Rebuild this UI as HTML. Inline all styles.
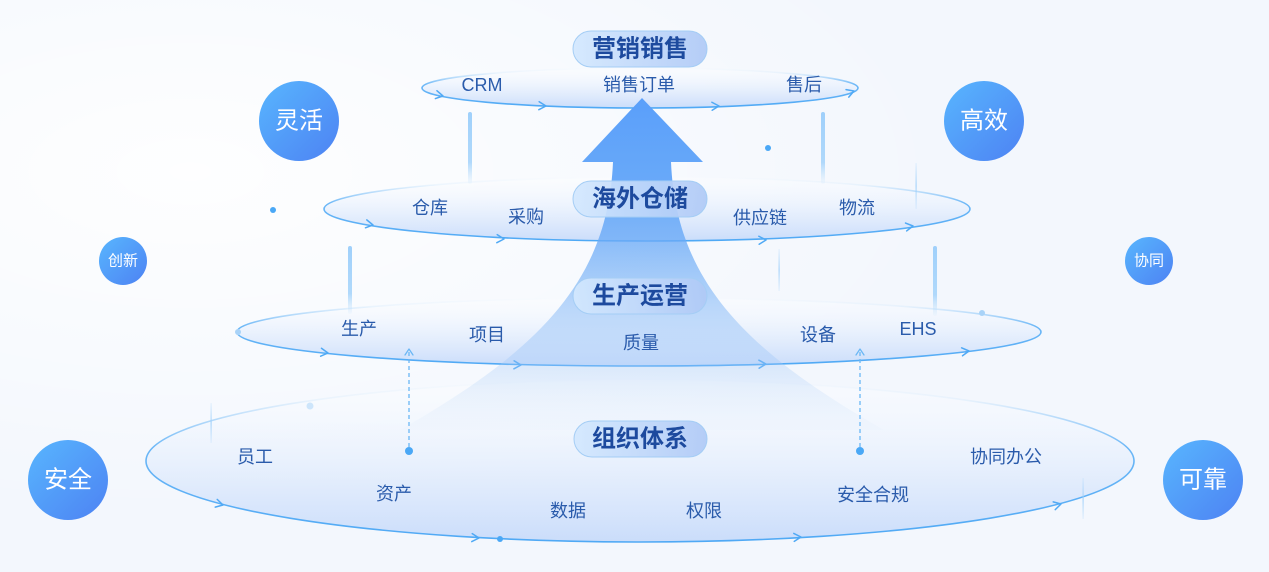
<!DOCTYPE html>
<html>
<head>
<meta charset="utf-8">
<style>
  html, body { margin: 0; padding: 0; }
  body { width: 1269px; height: 572px; overflow: hidden; background: #f4f8fe; }
  svg { display: block; }
  text { font-family: "Liberation Sans", "Noto Sans CJK SC", sans-serif; }
</style>
</head>
<body>
<svg width="1269" height="572" viewBox="0 0 1269 572" xmlns="http://www.w3.org/2000/svg">
  <defs>
    <radialGradient id="bgGlow" cx="0.15" cy="0.3" r="0.6">
      <stop offset="0" stop-color="#ffffff" stop-opacity="0.9"/>
      <stop offset="1" stop-color="#ffffff" stop-opacity="0"/>
    </radialGradient>
    <linearGradient id="ellStroke" x1="0" y1="0" x2="0" y2="1">
      <stop offset="0" stop-color="#5cb0f6" stop-opacity="0"/>
      <stop offset="0.12" stop-color="#5cb0f6" stop-opacity="0.08"/>
      <stop offset="0.42" stop-color="#5cb0f6" stop-opacity="0.9"/>
      <stop offset="1" stop-color="#4fa9f5" stop-opacity="1"/>
    </linearGradient>
    <linearGradient id="ellFill" x1="0" y1="0" x2="0" y2="1">
      <stop offset="0" stop-color="#ffffff" stop-opacity="0.3"/>
      <stop offset="0.5" stop-color="#e4eefd" stop-opacity="0.7"/>
      <stop offset="1" stop-color="#c3d8fa" stop-opacity="0.85"/>
    </linearGradient>
    <linearGradient id="arrowFill" gradientUnits="userSpaceOnUse" x1="0" y1="98" x2="0" y2="440">
      <stop offset="0" stop-color="#5a9ffa" stop-opacity="1"/>
      <stop offset="0.3" stop-color="#5fa4f8" stop-opacity="0.92"/>
      <stop offset="0.55" stop-color="#77b1f6" stop-opacity="0.6"/>
      <stop offset="0.8" stop-color="#a5caf7" stop-opacity="0.3"/>
      <stop offset="1" stop-color="#c8defa" stop-opacity="0"/>
    </linearGradient>
    <linearGradient id="pillFill" x1="0" y1="0" x2="1" y2="0">
      <stop offset="0" stop-color="#d3e8fe" stop-opacity="0.92"/>
      <stop offset="1" stop-color="#afc9f6" stop-opacity="0.92"/>
    </linearGradient>
    <linearGradient id="circFill" x1="0" y1="0" x2="1" y2="1">
      <stop offset="0" stop-color="#58b6fe"/>
      <stop offset="1" stop-color="#4d82f3"/>
    </linearGradient>
    <linearGradient id="barFill" x1="0" y1="0" x2="0" y2="1">
      <stop offset="0" stop-color="#9fd0fb" stop-opacity="1"/>
      <stop offset="0.7" stop-color="#a8d5fb" stop-opacity="0.9"/>
      <stop offset="1" stop-color="#c4e2fc" stop-opacity="0.1"/>
    </linearGradient>
    <linearGradient id="thinFill" x1="0" y1="0" x2="0" y2="1">
      <stop offset="0" stop-color="#9fd0fb" stop-opacity="0.2"/>
      <stop offset="0.5" stop-color="#9fd0fb" stop-opacity="0.9"/>
      <stop offset="1" stop-color="#9fd0fb" stop-opacity="0.2"/>
    </linearGradient>
  </defs>

  <!-- background -->
  <rect x="0" y="0" width="1269" height="572" fill="#f3f7fd"/>
  <rect x="0" y="0" width="1269" height="572" fill="url(#bgGlow)"/>

  <!-- ellipses -->
  <ellipse cx="640" cy="461" rx="494" ry="81" fill="url(#ellFill)" stroke="url(#ellStroke)" stroke-width="1.6"/>
  <ellipse cx="639" cy="332" rx="402" ry="34" fill="url(#ellFill)" stroke="url(#ellStroke)" stroke-width="1.6"/>
  <ellipse cx="647" cy="209" rx="323" ry="32" fill="url(#ellFill)" stroke="url(#ellStroke)" stroke-width="1.6"/>
  <ellipse cx="640" cy="88" rx="218" ry="20" fill="url(#ellFill)" stroke="url(#ellStroke)" stroke-width="1.6"/>

  <!-- chevron arrowheads on ellipses -->
  <g fill="none" stroke="#4fa9f5" stroke-width="1.5" stroke-linecap="round" stroke-linejoin="round">
    <path d="M-7,-4 L0,0 L-7,4" transform="translate(443,96) rotate(11)"/>
    <path d="M-7,-4 L0,0 L-7,4" transform="translate(546,106) rotate(2.5)"/>
    <path d="M-7,-4 L0,0 L-7,4" transform="translate(719,106) rotate(-2)"/>
    <path d="M-7,-4 L0,0 L-7,4" transform="translate(854,91) rotate(-20)"/>

    <path d="M-7,-4 L0,0 L-7,4" transform="translate(373,225) rotate(9.6)"/>
    <path d="M-7,-4 L0,0 L-7,4" transform="translate(504,239) rotate(2.7)"/>
    <path d="M-7,-4 L0,0 L-7,4" transform="translate(766,240) rotate(-2.1)"/>
    <path d="M-7,-4 L0,0 L-7,4" transform="translate(913,226) rotate(-8.2)"/>

    <path d="M-7,-4 L0,0 L-7,4" transform="translate(328,353) rotate(6)"/>
    <path d="M-7,-4 L0,0 L-7,4" transform="translate(521,365) rotate(1.6)"/>
    <path d="M-7,-4 L0,0 L-7,4" transform="translate(766,364) rotate(-1.6)"/>
    <path d="M-7,-4 L0,0 L-7,4" transform="translate(969,351) rotate(-6.7)"/>

    <path d="M-7,-4 L0,0 L-7,4" transform="translate(223,505) rotate(14.3)"/>
    <path d="M-7,-4 L0,0 L-7,4" transform="translate(479,538) rotate(3.2)"/>
    <path d="M-7,-4 L0,0 L-7,4" transform="translate(801,537) rotate(-3.2)"/>
    <path d="M-7,-4 L0,0 L-7,4" transform="translate(1061,504) rotate(-14.7)"/>
  </g>

  <!-- vertical bars -->
  <rect x="468" y="112" width="4" height="72" rx="2" fill="url(#barFill)"/>
  <rect x="821" y="112" width="4" height="72" rx="2" fill="url(#barFill)"/>
  <rect x="348" y="246" width="4" height="68" rx="2" fill="url(#barFill)"/>
  <rect x="933" y="246" width="4" height="70" rx="2" fill="url(#barFill)"/>
  <rect x="778.5" y="249" width="1.2" height="42" fill="url(#thinFill)"/>
  <rect x="915.5" y="163" width="1.2" height="46" fill="url(#thinFill)"/>
  <rect x="210.5" y="403" width="1.2" height="40" fill="url(#thinFill)"/>
  <rect x="1082.5" y="478" width="1.2" height="41" fill="url(#thinFill)"/>

  <!-- dashed connectors -->
  <g stroke="#6ab7f5" stroke-width="1.3" fill="none">
    <line x1="409" y1="352" x2="409" y2="448" stroke-dasharray="4 3"/>
    <line x1="860" y1="352" x2="860" y2="448" stroke-dasharray="4 3"/>
    <path d="M405,355 L409,349 L413,355" stroke-linecap="round" stroke-linejoin="round"/>
    <path d="M856,355 L860,349 L864,355" stroke-linecap="round" stroke-linejoin="round"/>
  </g>

  <!-- dots -->
  <circle cx="409" cy="451" r="4" fill="#4aa8f6"/>
  <circle cx="860" cy="451" r="4" fill="#4aa8f6"/>
  <circle cx="768" cy="148" r="3" fill="#4aa8f6"/>
  <circle cx="273" cy="210" r="3" fill="#4aa8f6"/>
  <circle cx="500" cy="539" r="3" fill="#4aa8f6"/>
  <circle cx="982" cy="313" r="3" fill="#a9d3f8"/>
  <circle cx="238" cy="332" r="3" fill="#a9d3f8"/>
  <circle cx="310" cy="406" r="3.5" fill="#cde5fb"/>

  <!-- big arrow -->
  <path d="M642,98 L703,162 L671,162 C676,280 744,350 884,430 L400,430 C540,350 608,280 613,162 L582,162 Z" fill="url(#arrowFill)"/>

  <!-- pills -->
  <g>
    <rect x="573" y="31" width="134" height="36" rx="18" fill="url(#pillFill)" stroke="#a4cdf5" stroke-width="1"/>
    <rect x="573" y="181" width="134" height="36" rx="18" fill="url(#pillFill)" stroke="#a4cdf5" stroke-width="1"/>
    <rect x="573" y="278" width="134" height="36" rx="18" fill="url(#pillFill)" stroke="#a4cdf5" stroke-width="1"/>
    <rect x="574" y="421" width="133" height="36" rx="18" fill="url(#pillFill)" stroke="#a4cdf5" stroke-width="1"/>
  </g>
  <g font-size="24" font-weight="bold" fill="#1d4a9e" text-anchor="middle" dominant-baseline="central">
    <text x="640" y="49">营销销售</text>
    <text x="640" y="199">海外仓储</text>
    <text x="640" y="296">生产运营</text>
    <text x="640" y="439">组织体系</text>
  </g>

  <!-- item labels -->
  <g font-size="18" fill="#2a5bab" text-anchor="middle" dominant-baseline="central">
    <text x="482" y="85">CRM</text>
    <text x="639" y="85">销售订单</text>
    <text x="804" y="85">售后</text>

    <text x="430" y="208">仓库</text>
    <text x="526" y="217">采购</text>
    <text x="760" y="218">供应链</text>
    <text x="857" y="208">物流</text>

    <text x="359" y="329">生产</text>
    <text x="487" y="335">项目</text>
    <text x="641" y="343">质量</text>
    <text x="818" y="335">设备</text>
    <text x="918" y="329">EHS</text>

    <text x="255" y="457">员工</text>
    <text x="394" y="494">资产</text>
    <text x="568" y="511">数据</text>
    <text x="704" y="511">权限</text>
    <text x="873" y="495">安全合规</text>
    <text x="1006" y="457">协同办公</text>
  </g>

  <!-- side circles -->
  <g>
    <circle cx="299" cy="121" r="40" fill="url(#circFill)"/>
    <circle cx="984" cy="121" r="40" fill="url(#circFill)"/>
    <circle cx="68" cy="480" r="40" fill="url(#circFill)"/>
    <circle cx="1203" cy="480" r="40" fill="url(#circFill)"/>
    <circle cx="123" cy="261" r="24" fill="url(#circFill)"/>
    <circle cx="1149" cy="261" r="24" fill="url(#circFill)"/>
  </g>
  <g fill="#ffffff" text-anchor="middle" dominant-baseline="central">
    <text x="299" y="121" font-size="24">灵活</text>
    <text x="984" y="121" font-size="24">高效</text>
    <text x="68" y="480" font-size="24">安全</text>
    <text x="1203" y="480" font-size="24">可靠</text>
    <text x="123" y="261" font-size="15">创新</text>
    <text x="1149" y="261" font-size="15">协同</text>
  </g>
</svg>
</body>
</html>
